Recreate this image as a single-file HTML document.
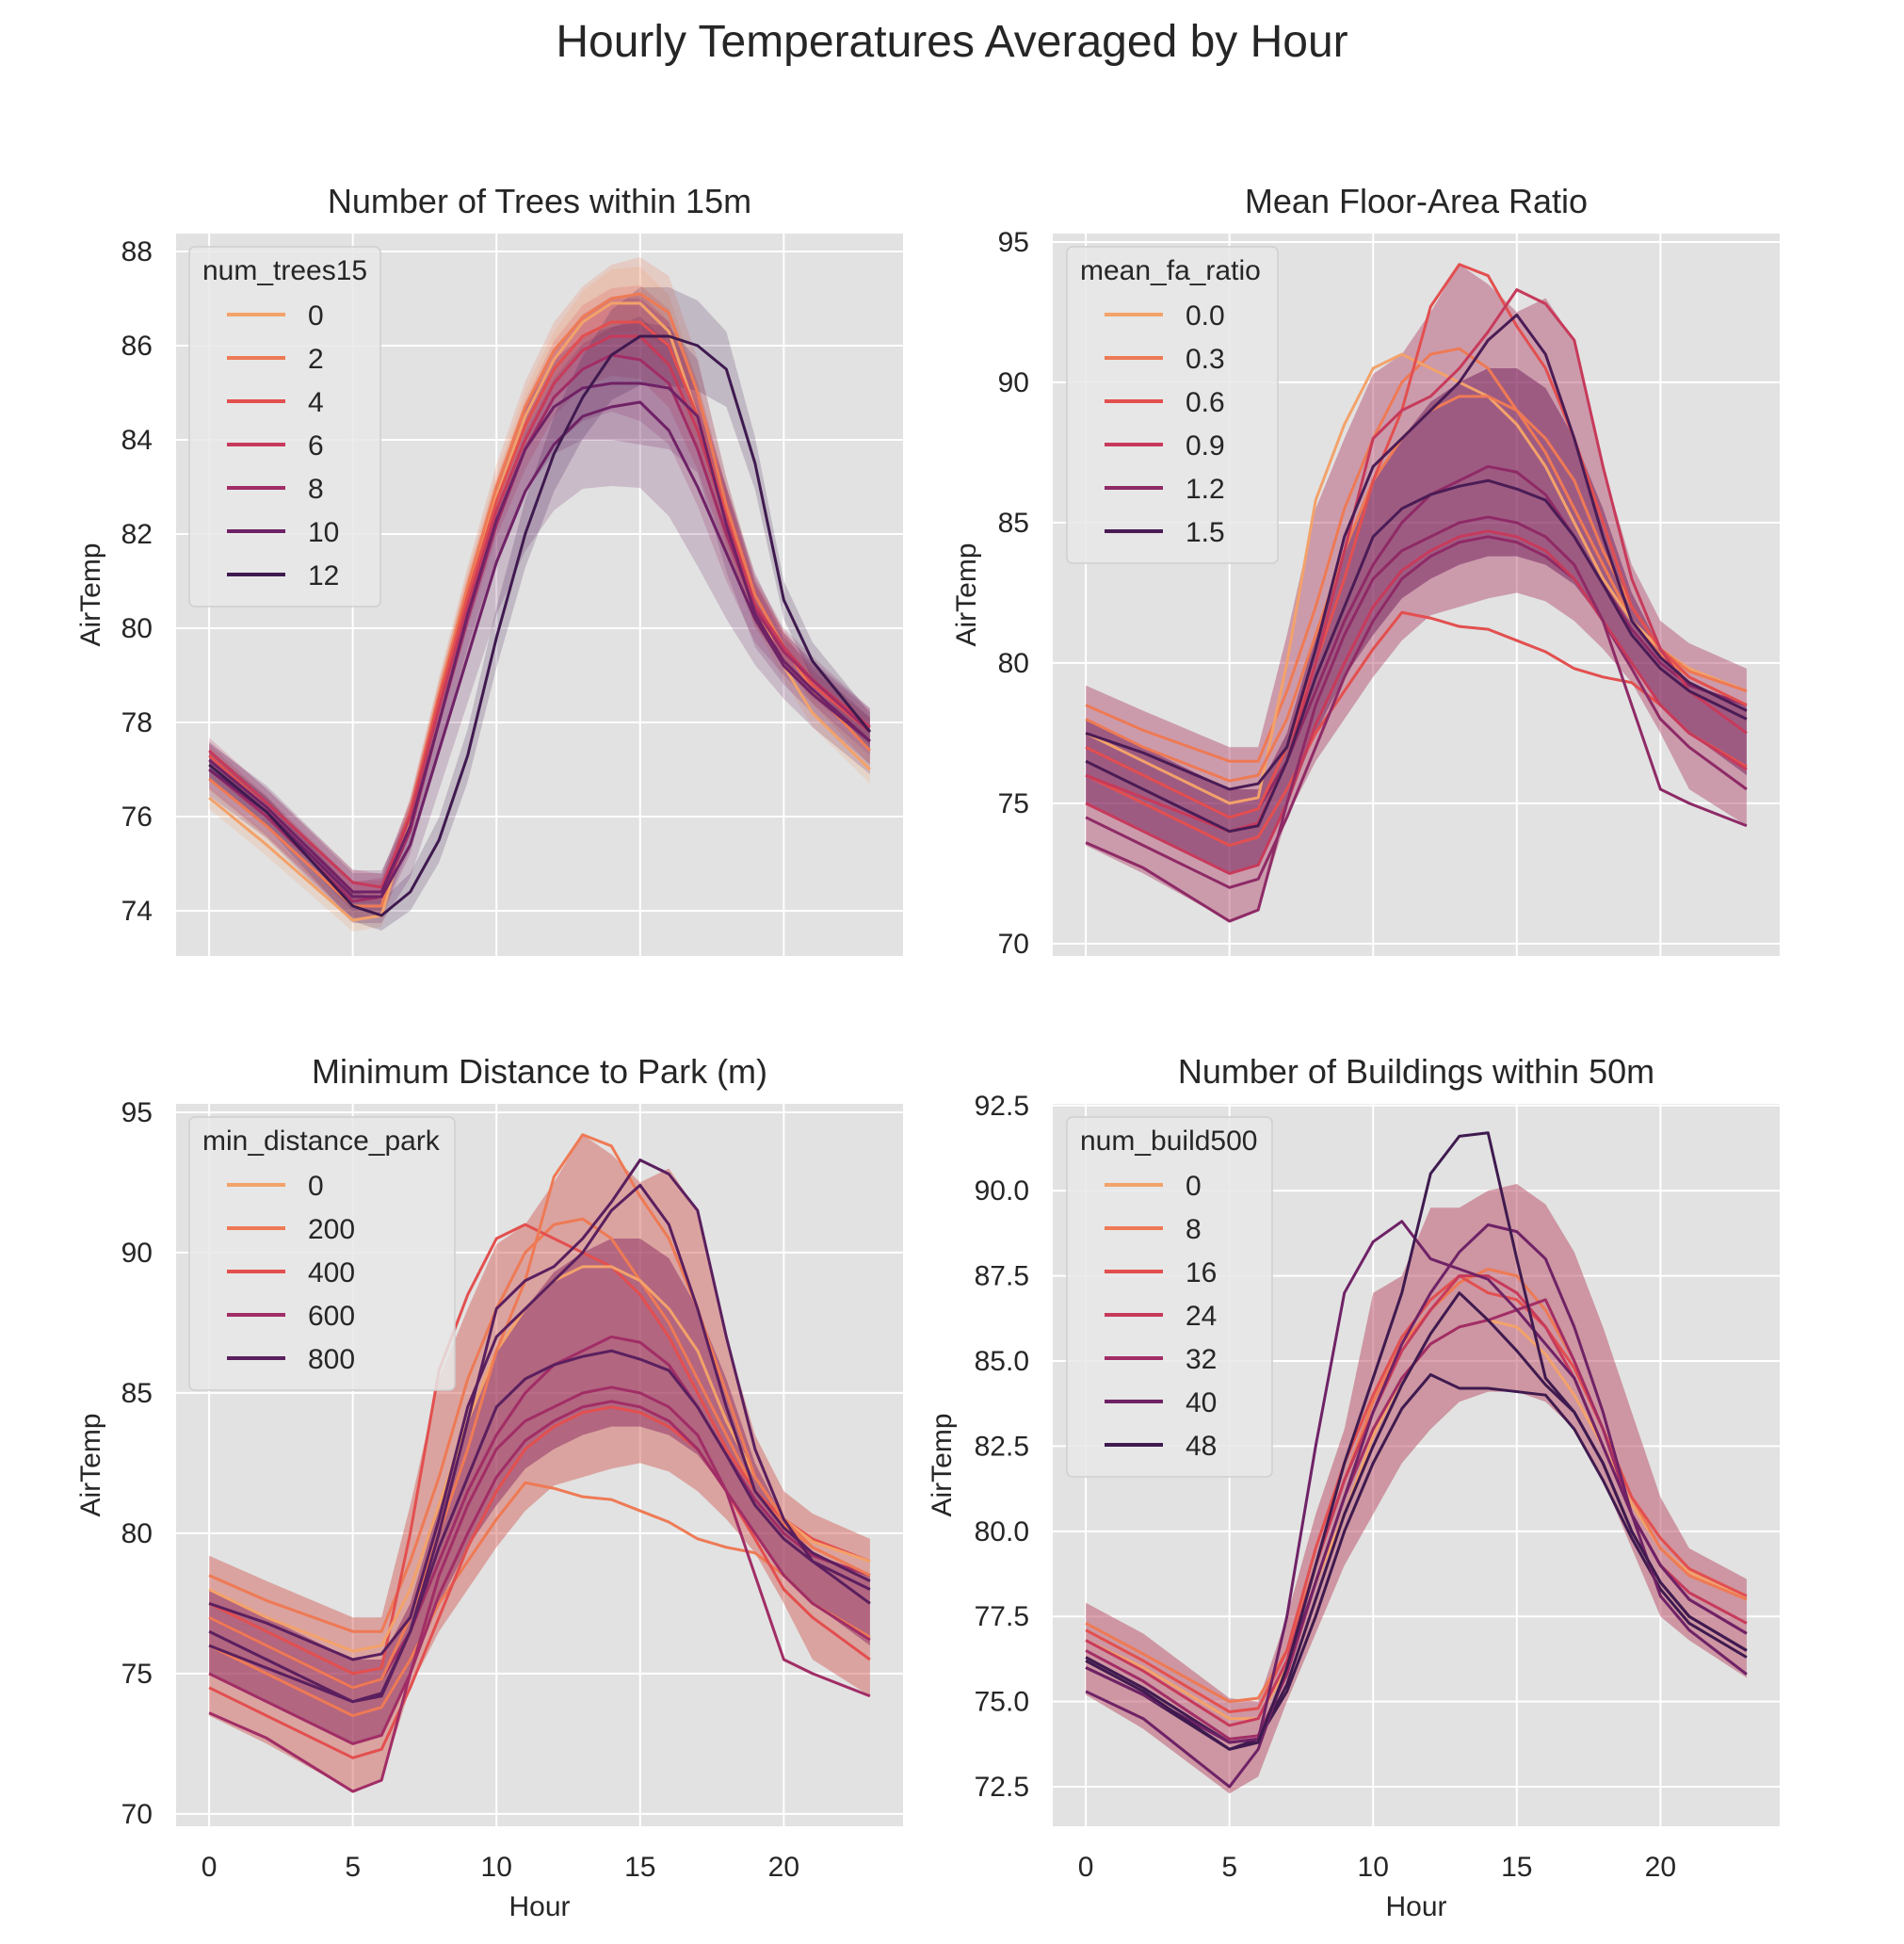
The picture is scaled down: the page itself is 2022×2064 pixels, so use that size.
<!DOCTYPE html>
<html><head><meta charset="utf-8"><style>
body{margin:0;background:#fff}
svg{display:block;font-family:"Liberation Sans",Arial,sans-serif}
</style></head><body>
<svg id="fig" width="2022" height="2064" viewBox="0 0 2022 2064" xmlns="http://www.w3.org/2000/svg">
<text x="1011" y="60" text-anchor="middle" font-size="48" fill="#262626">Hourly Temperatures Averaged by Hour</text>
</svg>
<script>
const hours=[0,2,5,6,7,8,9,10,11,12,13,14,15,16,17,18,19,20,21,23];
const xTicks=[0,5,10,15,20];
// Panel 1: trees
const treeLegend=["0","2","4","6","8","10","12"];
const treeColors=["#f3a26a","#ee7a55","#e34f4f","#c73a5b","#a12d66","#6f2266","#3f1a4f"];
const t0=[76.4,75.4,73.8,73.9,76,78.5,80.8,82.8,84.5,85.7,86.5,86.9,86.9,86.3,84.5,82.3,80.5,79.2,78.2,77.0];
const t2=[76.8,75.8,74.1,74.1,76.1,78.6,80.9,83,84.7,85.9,86.6,87,87.1,86.7,85,82.6,80.7,79.6,78.7,77.4];
const t4=[77.3,76.2,74.4,74.4,76.1,78.5,80.7,82.7,84.3,85.5,86.2,86.5,86.5,86,84.5,82.4,80.5,79.6,78.8,77.8];
const t6=[77.4,76.3,74.6,74.5,76,78.3,80.5,82.5,84,85.2,85.9,86.2,86.2,85.6,84.2,82.3,80.5,79.6,78.9,77.9];
const t8=[77,76,74.2,74.3,75.7,78,80.2,82.2,83.8,84.9,85.5,85.8,85.7,85.2,83.8,82,80.4,79.5,78.9,77.8];
const t10=[77,76.1,74.3,74.3,75.4,77.4,79.4,81.4,82.9,83.9,84.5,84.7,84.8,84.2,83,81.6,80.2,79.2,78.6,77.6];
const t10b=[77.2,76.2,74.4,74.4,75.8,78,80.3,82.3,83.8,84.7,85.1,85.2,85.2,85.1,84.5,82.2,80.3,79.3,78.7,77.6];
const t12=[77.1,76.1,74.1,73.9,74.4,75.5,77.3,79.8,82,83.7,84.9,85.8,86.2,86.2,86,85.5,83.5,80.6,79.3,77.8];
const treeCI=[0.4,0.4,0.4,0.4,0.5,0.6,0.7,0.8,0.9,1.0,1.1,1.2,1.3,1.3,1.2,1.0,0.7,0.5,0.5,0.5];
const treeCIScale=[0.6,0.6,0.6,0.7,1.0,1.4,1.0,0.8];
// Panel 2/3: fa ratio & park distance
const faLegend=["0.0","0.3","0.6","0.9","1.2","1.5"];
const faColors=["#f3a26a","#ee7a55","#e34f4f","#c73a5b","#8e2a66","#4a1c55"];
const parkLegend=["0","200","400","600","800"];
const parkColors=["#f3a26a","#ee7a55","#e34f4f","#a12d66","#5a1f5e"];
const envLow=[73.5,72.5,70.8,71.2,74.5,76.5,78,79.5,80.8,81.7,82,82.3,82.5,82.2,81.5,80.5,79.3,77.5,75.5,74.2];
const envHigh=[79.2,78.3,77,77,81,85.5,88,90.3,91,92.5,94.2,93.5,92.5,93,91.5,87,83.5,81.5,80.7,79.8];
const coreLow=[75,74,72.5,72.8,75,77.5,79.5,81,82.3,83,83.5,83.8,83.8,83.5,82.8,81.5,80,78.5,77.5,76];
const coreHigh=[78,77,75.5,75.5,77.5,81,84,86.5,88,89.3,90,90.5,90.5,89.8,88,85.5,82.5,80.5,79.3,78.5];
const f1=[78.5,77.6,76.5,76.5,79,82,85.5,88,90,91,91.2,90.5,89,87.5,85.5,83.5,81.5,80.3,79.5,78.5];
const f2=[77.5,76.5,75,75.2,80,85.8,88.5,90.5,91,90.5,90,89.5,88.5,87,85,83,81.5,80.5,79.8,79];
const f3=[76,75,73.5,73.8,75.5,77.5,79,80.5,81.8,81.6,81.3,81.2,80.8,80.4,79.8,79.5,79.3,78.5,77.5,76.3];
const f4=[77,76,74.5,74.8,77,80,83,86.5,89,92.7,94.2,93.8,92,90.5,88,85,82,80.5,79.5,78.5];
const f5=[76.5,75.5,74,74.2,76.5,79.5,82,84.5,85.5,86,86.3,86.5,86.2,85.8,84.5,82.8,81,79.8,79,78];
const f6=[73.6,72.7,70.8,71.2,75,78.5,81,83,84,84.5,85,85.2,85,84.5,83.5,81.5,78.5,75.5,75,74.2];
const f7=[76,75.2,74,74.3,76.5,80,84,88,89,89.5,90.5,91.8,93.3,92.8,91.5,87,83,80.5,79,77.5];
const f8=[77.5,76.8,75.5,75.7,77,80.5,84.5,87,88,89,90,91.5,92.4,91,88,84.5,81.5,80.2,79.3,78.3];
const f9=[75,74,72.5,72.8,75,77.8,80,82,83.3,84,84.5,84.7,84.5,84,83,81.5,80,78.5,77.5,76.2];
const f10=[77,76,74.5,74.8,76.5,79,81.5,83.5,85,86,86.5,87,86.8,86,84.5,82.8,81.2,80,79.2,78.5];
const f11=[78,77,75.8,76,78,81,84,86.5,88,89,89.5,89.5,89,88,86.5,84,82,80.5,79.7,79];
const f12=[74.5,73.5,72,72.3,74.5,77,79.5,81.5,83,83.8,84.3,84.5,84.3,83.8,83,81.5,79.8,78,77,75.5];
// Panel 4: buildings
const buildLegend=["0","8","16","24","32","40","48"];
const buildColors=["#f3a26a","#ee7a55","#e34f4f","#c73a5b","#a12d66","#6f2266","#3f1a4f"];
const bEnvLow=[75.2,74.2,72.3,72.8,75,77,79,80.5,82,83,83.8,84.1,84.1,83.8,83,81.5,79.5,77.5,76.8,75.7];
const bEnvHigh=[77.9,77,75.1,75,77.5,80.5,83,87,87.5,89.5,89.5,90,90.2,89.6,88.2,86,83.5,81,79.5,78.6];
const b1=[76,75.2,73.8,73.9,77.5,82.5,87,88.5,89.1,88,87.7,87.4,86.5,85.5,84.5,82.5,80.5,79,78,77];
const b2=[76.2,75.3,73.6,73.8,76,79,82,84.5,87,90.5,91.6,91.7,88,84.5,83.5,82,80,78.5,77.5,76.5];
const b3=[75.3,74.5,72.5,73.6,76,78.5,81,83.5,85.5,87,88.2,89,88.8,88,86,83.5,80.5,78.1,77.1,75.8];
const b4=[76.3,75.4,73.8,73.9,75.5,78,80.5,82.5,84.3,85.8,87,86.2,85.3,84.3,83.5,82,80,78.5,77.5,76.5];
const b5=[77.3,76.4,75,75.1,76.5,79,81.5,83.8,85.5,86.5,87.3,87.7,87.5,86.5,85,83,81,79.5,78.7,78];
const b6=[76.8,76,74.5,74.5,76,78.5,80.5,82.8,84.5,85.5,86,86.2,86,85.2,84,82.5,80.8,79.5,78.8,78];
const b7=[76.8,75.9,74.3,74.5,76.2,79,81.5,83.5,85.3,86.5,87.5,87.5,87,86,84.5,82.5,80.5,79,78.2,77.3];
const b8=[76.5,75.6,73.9,74,75.8,78.5,81,83,84.5,85.5,86,86.2,86.5,86.8,85,83,80.5,79,78,77];
const b9=[77.1,76.2,74.7,74.8,76.5,79.5,82,84,85.7,86.8,87.5,87,86.8,86,84.8,83,81,79.8,78.9,78.1];
const b10=[76,75.2,73.6,73.9,75.3,77.5,80,82,83.6,84.6,84.2,84.2,84.1,84,83,81.5,79.8,78.3,77.3,76.3];

const NS="http://www.w3.org/2000/svg";
const svg=document.getElementById('fig');
function mk(tag,attrs,parent){const e=document.createElementNS(NS,tag);for(const k in attrs)e.setAttribute(k,attrs[k]);(parent||svg).appendChild(e);return e;}

function panel(cfg){
  const g=mk('g',{});
  
  
  const X0=cfg.x,Y0=cfg.y,W=772,H=767;
  const xmin=-1.15,xmax=24.15;
  const sx=v=>X0+(v-xmin)/(xmax-xmin)*W;
  const sy=v=>Y0+(cfg.ymax-v)/(cfg.ymax-cfg.ymin)*H;
  const bg=mk('rect',{x:X0,y:Y0,width:W,height:H,fill:'#e2e2e2'},g);
  
  
  xTicks.forEach(t=>{
    const l=mk('line',{x1:sx(t),x2:sx(t),y1:Y0,y2:Y0+H,stroke:'#fff','stroke-width':2},g);
    
    
    if(cfg.showX){
      const tx=mk('text',{x:sx(t),y:Y0+H+53,'text-anchor':'middle','font-size':30,fill:'#262626'},g);
      tx.textContent=t;
      
      
    }
  });
  cfg.yTicks.forEach(t=>{
    const l=mk('line',{x1:X0,x2:X0+W,y1:sy(t),y2:sy(t),stroke:'#fff','stroke-width':2},g);
    
    
    const tx=mk('text',{x:X0-25,y:sy(t)+10,'text-anchor':'end','font-size':30,fill:'#262626'},g);
    tx.textContent=cfg.fmt(t);
    
    
  });
  const tt=mk('text',{x:X0+W/2,y:Y0-22,'text-anchor':'middle','font-size':36,fill:'#262626'},g);
  tt.textContent=cfg.title;
  
  
  const yl=mk('text',{x:0,y:0,'text-anchor':'middle','font-size':30,fill:'#262626',transform:`translate(${cfg.ylx},${Y0+H/2}) rotate(-90)`},g);
  yl.textContent='AirTemp';
  
  
  if(cfg.showX){
    const xl=mk('text',{x:X0+W/2,y:Y0+H+95,'text-anchor':'middle','font-size':30,fill:'#262626'},g);
    xl.textContent='Hour';
    
    
  }
  const band=(lo,hi,col,op)=>{
    let d='';hours.forEach((h,i)=>{d+=(i?'L':'M')+sx(h)+','+sy(hi[i]);});
    for(let i=hours.length-1;i>=0;i--)d+='L'+sx(hours[i])+','+sy(lo[i]);
    const p=mk('path',{d:d+'Z',fill:col,'fill-opacity':op},g);
    
    
  };
  (cfg.bands||[]).forEach(b=>band(b[0],b[1],b[2],b[3]));
  cfg.series.forEach(s=>{
    const pts=hours.map((h,i)=>sx(h)+','+sy(s[0][i])).join(' ');
    const pl=mk('polyline',{points:pts,fill:'none',stroke:s[1],'stroke-width':3,'stroke-linejoin':'round'},g);
    
    
  });
  // legend
  const L=cfg.legend;
  const lg=mk('g',{},g);
  
  
  mk('rect',{x:L.x,y:Y0+14,width:L.w,height:L.h,rx:6,fill:'#e8e8e8','fill-opacity':0.85,stroke:'#cfcfcf','stroke-width':1.5},lg);
  const lt=mk('text',{x:L.x+14,y:Y0+49,'font-size':30,fill:'#262626'},lg);
  lt.textContent=L.title;
  
  
  L.labels.forEach((lab,i)=>{
    const yy=Y0+86+i*46;
    const ln=mk('line',{x1:L.x+40,x2:L.x+102,y1:yy,y2:yy,stroke:L.colors[i],'stroke-width':4},lg);
    
    
    const tx=mk('text',{x:L.x+126,y:yy+11,'font-size':30,fill:'#262626'},lg);
    tx.textContent=lab;
    
    
  });
}

const treeSeries=[[t0,treeColors[0]],[t2,treeColors[1]],[t4,treeColors[2]],[t6,treeColors[3]],[t8,treeColors[4]],[t10,treeColors[5]],[t10b,treeColors[5]],[t12,treeColors[6]]];
const treeBands=treeSeries.map((s,k)=>[s[0].map((v,i)=>v-treeCI[i]*treeCIScale[k]),s[0].map((v,i)=>v+treeCI[i]*treeCIScale[k]),s[1],0.2]);
panel({name:'panel-num-trees',x:187,y:248,ymin:73.04,ymax:88.38,yTicks:[74,76,78,80,82,84,86,88],fmt:v=>v,title:'Number of Trees within 15m',ylx:106,showX:false,
  bands:treeBands,series:treeSeries,
  legend:{x:201,w:203,h:382,title:'num_trees15',labels:treeLegend,colors:treeColors}});

const faSeries=[[f3,faColors[2]],[f12,faColors[4]],[f9,faColors[3]],[f1,faColors[1]],[f2,faColors[0]],[f11,faColors[1]],[f10,faColors[4]],[f4,faColors[2]],[f7,faColors[3]],[f6,faColors[4]],[f8,faColors[5]],[f5,faColors[5]]];
const faBands=[[envLow,envHigh,'#b0456a',0.45],[coreLow,coreHigh,'#7a2660',0.55]];
panel({name:'panel-fa-ratio',x:1118,y:248,ymin:69.56,ymax:95.3,yTicks:[70,75,80,85,90,95],fmt:v=>v,title:'Mean Floor-Area Ratio',ylx:1036,showX:false,
  bands:faBands,series:faSeries,
  legend:{x:1133,w:224,h:336,title:'mean_fa_ratio',labels:faLegend,colors:faColors}});

const parkSeries=[[f3,parkColors[1]],[f12,parkColors[2]],[f9,parkColors[3]],[f1,parkColors[1]],[f2,parkColors[2]],[f11,parkColors[0]],[f10,parkColors[3]],[f4,parkColors[1]],[f7,parkColors[4]],[f6,parkColors[3]],[f8,parkColors[4]],[f5,parkColors[4]]];
const parkBands=[[envLow,envHigh,'#d0564f',0.45],[coreLow,coreHigh,'#8a2a5f',0.5]];
panel({name:'panel-park-distance',x:187,y:1172,ymin:69.56,ymax:95.3,yTicks:[70,75,80,85,90,95],fmt:v=>v,title:'Minimum Distance to Park (m)',ylx:106,showX:true,
  bands:parkBands,series:parkSeries,
  legend:{x:201,w:282,h:290,title:'min_distance_park',labels:parkLegend,colors:parkColors}});

const buildSeries=[[b6,buildColors[0]],[b5,buildColors[1]],[b9,buildColors[2]],[b7,buildColors[3]],[b8,buildColors[4]],[b4,buildColors[6]],[b10,buildColors[6]],[b3,buildColors[5]],[b1,buildColors[5]],[b2,buildColors[6]]];
const buildBands=[[bEnvLow,bEnvHigh,'#b84a62',0.5]];
panel({name:'panel-buildings',x:1118,y:1172,ymin:71.34,ymax:92.55,yTicks:[72.5,75,77.5,80,82.5,85,87.5,90,92.5],fmt:v=>v.toFixed(1),title:'Number of Buildings within 50m',ylx:1010,showX:true,
  bands:buildBands,series:buildSeries,
  legend:{x:1133,w:218,h:382,title:'num_build500',labels:buildLegend,colors:buildColors}});
</script>
</body></html>
